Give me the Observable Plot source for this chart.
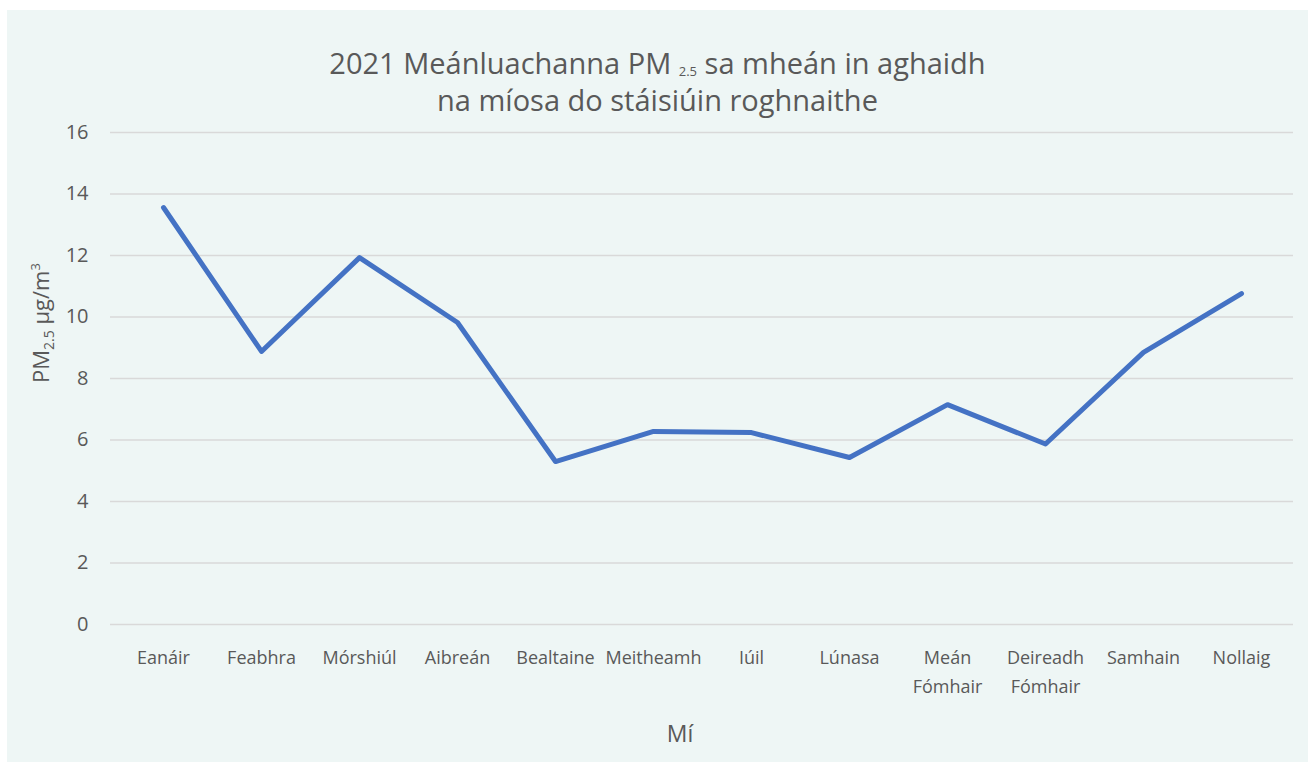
<!DOCTYPE html>
<html>
<head>
<meta charset="utf-8">
<script src="https://cdn.jsdelivr.net/npm/d3@7"></script>
<script src="https://cdn.jsdelivr.net/npm/@observablehq/plot@0.6"></script>
<style>
  html, body { margin: 0; padding: 0; background: #ffffff; }
  #card { position: absolute; left: 7px; top: 10px; width: 1301px; height: 752px; background: #eef6f5; font-family: "Open Sans", sans-serif; color: #595959; }
  #title { text-align: center; font-size: 29px; padding-top: 38px; height: 68px; box-sizing: content-box; }
  #title .ln { height: 35px; display: flex; justify-content: center; align-items: baseline; white-space: pre; }
  #title .ln.first { height: 37px; }
  #title .ln span { line-height: 29px; }
  #title .ln span.sb { font-size: 13px; position: relative; top: 2px; line-height: 13px; }
  #ylabel { position: absolute; left: 33px; top: 313px; transform: translate(-50%, -50%) rotate(-90deg); white-space: nowrap; font-size: 22px; }
  #ylabel sub { font-size: 14px; vertical-align: -5px; line-height: 0; }
  #ylabel sup { font-size: 13px; vertical-align: 9px; line-height: 0; }
  #xlabel { position: absolute; left: 673px; top: 723px; transform: translate(-50%, -50%); font-size: 23px; }
  #chart { position: absolute; left: 0; top: 106px; }
</style>
</head>
<body>
<div id="card">
  <div id="title"><div class="ln first"><span>2021 Meánluachanna PM </span><span class="sb">2.5</span><span> sa mheán in aghaidh</span></div><div class="ln"><span>na míosa do stáisiúin roghnaithe</span></div></div>
  <div id="chart"></div>
  <div id="ylabel">PM<sub>2.5</sub> µg/m<sup>3</sup></div>
  <div id="xlabel">Mí</div>
</div>
<script>
const months = ["Eanáir","Feabhra","Mórshiúl","Aibreán","Bealtaine","Meitheamh","Iúil","Lúnasa","Meán\nFómhair","Deireadh\nFómhair","Samhain","Nollaig"];
const pm25 = [13.56, 8.88, 11.93, 9.82, 5.30, 6.28, 6.24, 5.43, 7.15, 5.87, 8.85, 10.76];
const yTicks = [0, 2, 4, 6, 8, 10, 12, 14, 16];

const data = months.map((m, i) => ({month: m, value: pm25[i]}));

const plot = Plot.plot({
  width: 1301,
  height: 646,
  marginTop: 16,
  marginBottom: 138,
  marginLeft: 103,
  marginRight: 15,
  style: { background: "transparent", fontFamily: "Open Sans, sans-serif", color: "#595959" },
  x: { type: "point", domain: months, padding: 0.5, label: null },
  y: { domain: [0, 16], label: null },
  marks: [
    Plot.gridY(yTicks, { stroke: "#d9d9d9", strokeOpacity: 1, strokeWidth: 1.5 }),
    Plot.axisY(yTicks, { tickSize: 0, tickPadding: 22, fontSize: 20, fill: "#595959", label: null }),
    Plot.axisX({ tickSize: 0, tickPadding: 19, fontSize: 18, fill: "#595959", lineHeight: 1.6, lineAnchor: "top", label: null }),
    Plot.line(data, { x: "month", y: "value", stroke: "#4472c4", strokeWidth: 5, strokeLinejoin: "round", strokeLinecap: "round" })
  ]
});
document.getElementById("chart").appendChild(plot);
</script>
</body>
</html>
